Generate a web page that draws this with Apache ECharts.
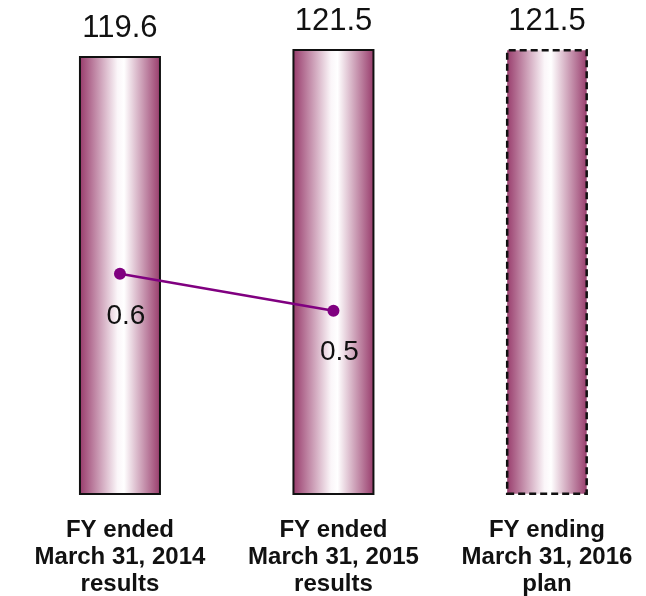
<!DOCTYPE html>
<html>
<head>
<meta charset="utf-8">
<script src="https://cdn.jsdelivr.net/npm/echarts@6/dist/echarts.min.js"></script>
<style>html,body{margin:0;padding:0;background:#fff;}#main{width:646px;height:596px;}</style>
</head>
<body>
<div id="main"></div>
<script>
var categories = ['FY ended\nMarch 31, 2014\nresults', 'FY ended\nMarch 31, 2015\nresults', 'FY ending\nMarch 31, 2016\nplan'];
var barValues = [119.6, 121.5, 121.5];
var lineValues = [0.6, 0.5];

var grad = {
  type: 'linear', x: 0, y: 0, x2: 1, y2: 0,
  colorStops: [
    {offset: 0, color: '#963869'},
    {offset: 0.47, color: '#fbf6f9'},
    {offset: 0.55, color: '#ffffff'},
    {offset: 1, color: '#963869'}
  ]
};

var barData = barValues.map(function (v, i) {
  return {
    value: [i, v],
    itemStyle: {
      color: grad,
      borderColor: '#111',
      borderWidth: i === 2 ? 2.5 : 2,
      borderType: i === 2 ? [7, 4] : 'solid'
    }
  };
});
var lineData = lineValues.map(function (v, i) { return [i, v]; });

var chart = echarts.init(document.getElementById('main'));
chart.setOption({
  animation: false,
  grid: {left: 13, right: 0, top: 49, bottom: 101, outerBoundsMode: 'none', containLabel: false},
  xAxis: {
    type: 'value',
    min: -0.501,
    max: 2.464,
    splitLine: {show: false},
    axisLine: {show: false},
    axisTick: {show: false},
    axisLabel: {
      customValues: [0, 1, 2],
      formatter: function (v) { return categories[Math.round(v)] || ''; },
      margin: 22,
      color: '#111',
      fontFamily: 'Liberation Sans',
      fontWeight: 'bold',
      fontSize: 24,
      lineHeight: 27
    }
  },
  yAxis: [
    {type: 'value', min: 0, max: 121.5, show: false},
    {type: 'value', min: 0, max: 1.21, show: false}
  ],
  series: [
    {
      type: 'bar',
      data: barData,
      barWidth: 82,
      label: {
        show: true,
        position: 'top',
        distance: 12,
        formatter: function (p) { return p.data.value[1]; },
        color: '#111',
        fontFamily: 'Liberation Sans',
        fontSize: 31
      }
    },
    {
      type: 'line',
      yAxisIndex: 1,
      data: lineData,
      symbol: 'circle',
      symbolSize: 12,
      lineStyle: {color: '#800080', width: 2.5},
      itemStyle: {color: '#800080'},
      label: {
        show: true,
        position: 'bottom',
        distance: 22,
        offset: [6, 0],
        formatter: function (p) { return p.data[1]; },
        color: '#111',
        fontFamily: 'Liberation Sans',
        fontSize: 28
      }
    }
  ]
});
</script>
</body>
</html>
